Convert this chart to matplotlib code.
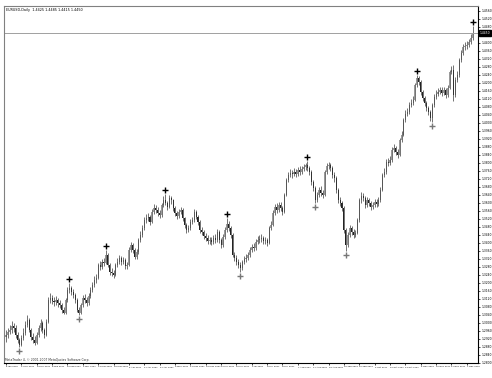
import matplotlib
matplotlib.use('Agg')
import matplotlib.pyplot as plt
import numpy as np
import pandas as pd

symbol = 'EURUSD,Daily'
start_date = '2007-01-05'
first_open = 1.2930

closes = [
    1.2940, 1.2955, 1.2965, 1.2985, 1.2975, 1.2940, 1.2915, 1.2890, 1.2925, 1.2950,
    1.2990, 1.3015, 1.2965, 1.2930, 1.2915, 1.2900, 1.2940, 1.2975, 1.3000, 1.2965,
    1.2940, 1.3005, 1.3115, 1.3125, 1.3110, 1.3105, 1.3115, 1.3100, 1.3090, 1.3065,
    1.3050, 1.3115, 1.3165, 1.3175, 1.3155, 1.3140, 1.3115, 1.3065, 1.3050, 1.3090,
    1.3125, 1.3115, 1.3100, 1.3135, 1.3165, 1.3190, 1.3215, 1.3225, 1.3290, 1.3280,
    1.3305, 1.3300, 1.3340, 1.3290, 1.3255, 1.3250, 1.3240, 1.3290, 1.3305, 1.3325,
    1.3305, 1.3315, 1.3285, 1.3290, 1.3365, 1.3390, 1.3365, 1.3330, 1.3355, 1.3415,
    1.3440, 1.3475, 1.3515, 1.3525, 1.3530, 1.3505, 1.3555, 1.3575, 1.3565, 1.3550,
    1.3540, 1.3590, 1.3615, 1.3600, 1.3580, 1.3625, 1.3615, 1.3575, 1.3550, 1.3535,
    1.3555, 1.3565, 1.3525, 1.3490, 1.3465, 1.3475, 1.3505, 1.3515, 1.3555, 1.3530,
    1.3505, 1.3465, 1.3455, 1.3435, 1.3425, 1.3410, 1.3415, 1.3405, 1.3425, 1.3415,
    1.3455, 1.3415, 1.3390, 1.3430, 1.3465, 1.3495, 1.3475, 1.3440, 1.3340, 1.3325,
    1.3305, 1.3290, 1.3275, 1.3305, 1.3320, 1.3325, 1.3340, 1.3365, 1.3380, 1.3375,
    1.3405, 1.3415, 1.3420, 1.3425, 1.3410, 1.3415, 1.3400, 1.3475, 1.3490, 1.3550,
    1.3580, 1.3565, 1.3590, 1.3575, 1.3555, 1.3640, 1.3715, 1.3740, 1.3750, 1.3745,
    1.3755, 1.3745, 1.3765, 1.3755, 1.3770, 1.3780, 1.3790, 1.3775, 1.3755, 1.3705,
    1.3675, 1.3615, 1.3640, 1.3665, 1.3650, 1.3640, 1.3755, 1.3785, 1.3790, 1.3775,
    1.3740, 1.3725, 1.3665, 1.3615, 1.3600, 1.3575, 1.3465, 1.3390, 1.3440, 1.3475,
    1.3455, 1.3440, 1.3450, 1.3515, 1.3615, 1.3635, 1.3625, 1.3590, 1.3615, 1.3600,
    1.3580, 1.3590, 1.3605, 1.3595, 1.3615, 1.3665, 1.3740, 1.3755, 1.3805, 1.3800,
    1.3815, 1.3865, 1.3875, 1.3855, 1.3840, 1.3915, 1.3940, 1.4015, 1.4045, 1.4055,
    1.4090, 1.4100, 1.4115, 1.4190, 1.4225, 1.4205, 1.4155, 1.4125, 1.4100, 1.4075,
    1.4055, 1.4025, 1.4090, 1.4130, 1.4145, 1.4155, 1.4165, 1.4150, 1.4165, 1.4140,
    1.4175, 1.4255, 1.4265, 1.4140, 1.4215, 1.4240, 1.4315, 1.4350, 1.4380, 1.4385,
    1.4390, 1.4405, 1.4425, 1.4450,
]

highs = [
    1.2965, 1.2975, 1.2990, 1.3010, 1.3000, 1.2990, 1.2955, 1.2925, 1.2940, 1.2975,
    1.3010, 1.3040, 1.3025, 1.2975, 1.2950, 1.2935, 1.2955, 1.2990, 1.3020, 1.3010,
    1.2975, 1.3020, 1.3130, 1.3150, 1.3140, 1.3130, 1.3135, 1.3125, 1.3115, 1.3100,
    1.3080, 1.3125, 1.3180, 1.3200, 1.3185, 1.3170, 1.3150, 1.3125, 1.3080, 1.3100,
    1.3140, 1.3145, 1.3130, 1.3150, 1.3180, 1.3205, 1.3235, 1.3245, 1.3300, 1.3310,
    1.3320, 1.3325, 1.3365, 1.3350, 1.3300, 1.3275, 1.3265, 1.3300, 1.3325, 1.3340,
    1.3335, 1.3330, 1.3325, 1.3305, 1.3380, 1.3405, 1.3400, 1.3375, 1.3370, 1.3425,
    1.3460, 1.3490, 1.3530, 1.3545, 1.3550, 1.3540, 1.3570, 1.3595, 1.3590, 1.3580,
    1.3565, 1.3600, 1.3635, 1.3645, 1.3610, 1.3640, 1.3635, 1.3620, 1.3585, 1.3560,
    1.3570, 1.3580, 1.3575, 1.3530, 1.3500, 1.3490, 1.3520, 1.3530, 1.3570, 1.3565,
    1.3540, 1.3515, 1.3480, 1.3465, 1.3450, 1.3440, 1.3430, 1.3430, 1.3440, 1.3445,
    1.3470, 1.3465, 1.3425, 1.3445, 1.3480, 1.3525, 1.3510, 1.3485, 1.3450, 1.3355,
    1.3340, 1.3320, 1.3305, 1.3315, 1.3335, 1.3345, 1.3355, 1.3380, 1.3395, 1.3400,
    1.3420, 1.3435, 1.3440, 1.3445, 1.3435, 1.3430, 1.3425, 1.3485, 1.3510, 1.3565,
    1.3595, 1.3600, 1.3605, 1.3605, 1.3585, 1.3650, 1.3725, 1.3755, 1.3770, 1.3765,
    1.3775, 1.3770, 1.3780, 1.3785, 1.3785, 1.3795, 1.3800, 1.3810, 1.3785, 1.3765,
    1.3715, 1.3685, 1.3655, 1.3680, 1.3685, 1.3665, 1.3765, 1.3800, 1.3805, 1.3800,
    1.3785, 1.3755, 1.3735, 1.3675, 1.3630, 1.3610, 1.3585, 1.3475, 1.3455, 1.3490,
    1.3485, 1.3470, 1.3465, 1.3525, 1.3625, 1.3655, 1.3650, 1.3635, 1.3630, 1.3625,
    1.3610, 1.3605, 1.3620, 1.3620, 1.3630, 1.3680, 1.3750, 1.3775, 1.3820, 1.3825,
    1.3835, 1.3880, 1.3895, 1.3885, 1.3870, 1.3925, 1.3960, 1.4025, 1.4065, 1.4075,
    1.4105, 1.4120, 1.4135, 1.4200, 1.4240, 1.4235, 1.4215, 1.4165, 1.4135, 1.4110,
    1.4085, 1.4065, 1.4100, 1.4145, 1.4165, 1.4175, 1.4180, 1.4180, 1.4180, 1.4175,
    1.4190, 1.4265, 1.4285, 1.4290, 1.4230, 1.4260, 1.4325, 1.4365, 1.4395, 1.4405,
    1.4410, 1.4420, 1.4445, 1.4485,
]

lows = [
    1.2905, 1.2925, 1.2945, 1.2950, 1.2955, 1.2925, 1.2900, 1.2880, 1.2885, 1.2915,
    1.2940, 1.2980, 1.2955, 1.2915, 1.2900, 1.2890, 1.2895, 1.2930, 1.2960, 1.2950,
    1.2925, 1.2935, 1.3000, 1.3100, 1.3095, 1.3085, 1.3090, 1.3080, 1.3075, 1.3050,
    1.3045, 1.3045, 1.3105, 1.3150, 1.3140, 1.3125, 1.3100, 1.3055, 1.3040, 1.3045,
    1.3080, 1.3100, 1.3085, 1.3090, 1.3125, 1.3155, 1.3180, 1.3200, 1.3220, 1.3265,
    1.3270, 1.3285, 1.3295, 1.3280, 1.3240, 1.3235, 1.3225, 1.3235, 1.3280, 1.3295,
    1.3290, 1.3295, 1.3270, 1.3270, 1.3285, 1.3355, 1.3350, 1.3320, 1.3320, 1.3345,
    1.3405, 1.3430, 1.3465, 1.3500, 1.3510, 1.3490, 1.3500, 1.3545, 1.3550, 1.3535,
    1.3525, 1.3530, 1.3580, 1.3590, 1.3565, 1.3575, 1.3595, 1.3560, 1.3535, 1.3520,
    1.3525, 1.3545, 1.3510, 1.3475, 1.3450, 1.3455, 1.3465, 1.3495, 1.3505, 1.3520,
    1.3490, 1.3450, 1.3440, 1.3420, 1.3410, 1.3395, 1.3395, 1.3390, 1.3395, 1.3400,
    1.3405, 1.3400, 1.3375, 1.3380, 1.3420, 1.3455, 1.3460, 1.3425, 1.3330, 1.3310,
    1.3290, 1.3275, 1.3255, 1.3265, 1.3295, 1.3305, 1.3315, 1.3330, 1.3355, 1.3360,
    1.3365, 1.3395, 1.3400, 1.3405, 1.3395, 1.3395, 1.3385, 1.3395, 1.3465, 1.3485,
    1.3540, 1.3550, 1.3555, 1.3560, 1.3540, 1.3550, 1.3635, 1.3705, 1.3730, 1.3725,
    1.3735, 1.3730, 1.3735, 1.3740, 1.3745, 1.3760, 1.3765, 1.3760, 1.3740, 1.3690,
    1.3660, 1.3600, 1.3605, 1.3630, 1.3635, 1.3625, 1.3635, 1.3745, 1.3770, 1.3760,
    1.3725, 1.3705, 1.3650, 1.3600, 1.3585, 1.3560, 1.3450, 1.3360, 1.3380, 1.3430,
    1.3440, 1.3425, 1.3430, 1.3445, 1.3505, 1.3600, 1.3610, 1.3575, 1.3580, 1.3585,
    1.3565, 1.3570, 1.3580, 1.3580, 1.3585, 1.3605, 1.3660, 1.3730, 1.3745, 1.3785,
    1.3790, 1.3805, 1.3855, 1.3840, 1.3825, 1.3835, 1.3905, 1.3935, 1.4005, 1.4035,
    1.4045, 1.4080, 1.4090, 1.4110, 1.4180, 1.4190, 1.4140, 1.4110, 1.4085, 1.4060,
    1.4040, 1.4010, 1.4005, 1.4080, 1.4120, 1.4135, 1.4145, 1.4135, 1.4140, 1.4125,
    1.4130, 1.4170, 1.4245, 1.4110, 1.4130, 1.4205, 1.4230, 1.4305, 1.4340, 1.4365,
    1.4370, 1.4380, 1.4395, 1.4415,
]

# bars carrying the swing arrows
peak_bars = [33, 52, 83, 115, 157, 214, 243]
trough_bars = [7, 38, 122, 161, 177, 222]

y_min, y_max = 1.2800, 1.4585
tick_step = 0.0040
label_every = 8

n = len(closes)
closes = np.array(closes)
highs = np.array(highs)
lows = np.array(lows)
opens = np.concatenate([[first_open], closes[:-1]])
x = np.arange(n)
dates = pd.bdate_range(start_date, periods=n)

W, H = 492, 378
fig = plt.figure(figsize=(W / 100, H / 100), dpi=100)
ax = fig.add_axes([4 / W, 1 - 363 / H, 474 / W, 357 / H])

ax.vlines(x, lows, highs, color='#3a3a3a', lw=0.5)
up = closes >= opens
body_lo = np.minimum(opens, closes)
body_h = np.maximum(np.abs(closes - opens), 0.0004)
ax.bar(x[up], body_h[up], bottom=body_lo[up], width=0.55, color='#9a9a9a', lw=0)
ax.bar(x[~up], body_h[~up], bottom=body_lo[~up], width=0.55, color='#222222', lw=0)

ax.plot(peak_bars, highs[peak_bars] + 0.0022, '+', color='black', ms=4, mew=1.0)
ax.plot(trough_bars, lows[trough_bars] - 0.0022, '+', color='#777777', ms=4, mew=1.0)

# bid line and price box
last = closes[-1]
ax.axhline(last, color='#a0a0a0', lw=0.7)
ax.text(1.004, last, '%.4f' % last, transform=ax.get_yaxis_transform(),
        fontsize=2.2, color='white', va='center', ha='left',
        bbox=dict(boxstyle='square,pad=0.2', fc='black', ec='black'))

ax.set_xlim(-2 / 1.92, 474 / 1.92 - 2 / 1.92)
ax.set_ylim(y_min, y_max)

yt = np.arange(y_min, y_max, tick_step)
ax.yaxis.tick_right()
ax.set_yticks(yt)
ax.set_yticklabels(['%.4f' % v for v in yt])
xt = x[::label_every]
ax.set_xticks(xt)
ax.set_xticklabels([d.strftime('%d %b %Y').lstrip('0') for d in dates[::label_every]],
                   ha='left')
ax.tick_params(axis='y', labelsize=2.2, length=1.5, width=0.5, pad=1)
ax.tick_params(axis='x', labelsize=1.6, length=1.5, width=0.5, pad=1)

for side in ['left', 'top']:
    ax.spines[side].set_color('#808080')
for side in ['right', 'bottom']:
    ax.spines[side].set_color('black')
for s in ax.spines.values():
    s.set_linewidth(0.8)

ax.text(0.004, 0.995, '%s  %.4f %.4f %.4f %.4f' % (symbol, opens[-1], highs[-1], lows[-1], last),
        transform=ax.transAxes, fontsize=2.4, va='top', ha='left')
ax.text(0.002, 0.004, 'MetaTrader 4, \u00a9 2001-2007 MetaQuotes Software Corp.',
        transform=ax.transAxes, fontsize=2.2, va='bottom', ha='left', color='#303030')

fig.savefig('out.png', dpi=100)
